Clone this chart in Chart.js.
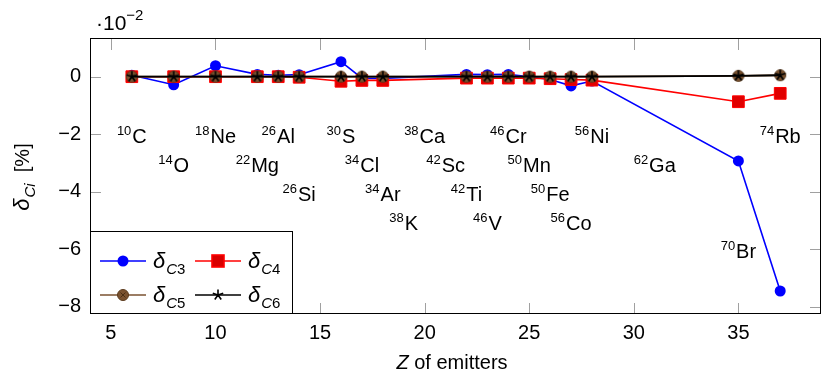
<!DOCTYPE html>
<html>
<head>
<meta charset="utf-8">
<script src="https://cdn.jsdelivr.net/npm/chart.js@4.4.1/dist/chart.umd.min.js"></script>
<style>
  html, body { margin: 0; padding: 0; background: #fff; }
  #wrap { width: 821px; height: 374px; }
</style>
</head>
<body>
<div id="wrap"><canvas id="chart" width="821" height="374"></canvas></div>
<script>
// values in units of 10^-2 %
var zValues = [6, 8, 10, 12, 13, 14, 16, 17, 18, 22, 23, 24, 25, 26, 27, 28, 35, 37];
var deltaC3 = [0.05, -0.28, 0.38, 0.08, 0.05, 0.07, 0.52, -0.05, -0.06, 0.08, 0.07, 0.08, 0.0, -0.1, -0.32, -0.15, -2.93, -7.45];
var deltaC4 = [0.0, 0.0, 0.0, 0.0, 0.0, -0.02, -0.16, -0.13, -0.13, -0.05, -0.05, -0.05, -0.05, -0.07, -0.1, -0.12, -0.87, -0.58];
var deltaC5 = [0.0, 0.0, 0.0, 0.0, 0.0, 0.0, 0.0, 0.0, 0.0, 0.0, 0.0, 0.0, 0.0, 0.0, 0.0, 0.0, 0.03, 0.05];
var deltaC6 = [0.0, 0.0, 0.0, 0.0, 0.0, 0.0, 0.0, 0.0, 0.0, 0.0, 0.0, 0.0, 0.0, 0.0, 0.0, 0.0, 0.03, 0.05];

var xTickValues = [5, 10, 15, 20, 25, 30, 35];
var yTickValues = [0, -2, -4, -6, -8];

var emitterMass = ['10', '14', '18', '22', '26', '26', '30', '34', '34', '38', '38', '42', '42', '46', '46', '50', '50', '56', '56', '62', '70', '74'];
var emitterSymbol = ['C', 'O', 'Ne', 'Mg', 'Al', 'Si', 'S', 'Cl', 'Ar', 'K', 'Ca', 'Sc', 'Ti', 'V', 'Cr', 'Mn', 'Fe', 'Co', 'Ni', 'Ga', 'Br', 'Rb'];
var emitterZ = [6, 8, 10, 12, 13, 14, 16, 17, 18, 19, 20, 21, 22, 23, 24, 25, 26, 27, 28, 31, 35, 37];
var emitterLabelY = [-2, -3, -2, -3, -2, -4, -2, -3, -4, -5, -2, -3, -4, -5, -2, -3, -4, -5, -2, -3, -6, -2];

var FONT = '"Liberation Sans", Arial, Helvetica, sans-serif';
var BROWN = '#7a5230';

function toPoints(ys) {
  return zValues.map(function (z, i) { return { x: z, y: ys[i] }; });
}

// pgfplots-like marks
function makeStarMark() {
  var c = document.createElement('canvas');
  c.width = 14; c.height = 14;
  var g = c.getContext('2d');
  g.strokeStyle = '#000';
  g.lineWidth = 1.6;
  g.beginPath();
  for (var k = 0; k < 5; k++) {
    var a = -Math.PI / 2 + k * 2 * Math.PI / 5;
    g.moveTo(7, 7);
    g.lineTo(7 + 5.5 * Math.cos(a), 7 + 5.5 * Math.sin(a));
  }
  g.stroke();
  return c;
}
function makeBrownMark() {
  var c = document.createElement('canvas');
  c.width = 14; c.height = 14;
  var g = c.getContext('2d');
  g.fillStyle = BROWN;
  g.strokeStyle = '#5a3a1c';
  g.lineWidth = 1;
  g.beginPath();
  g.arc(7, 7, 5.5, 0, Math.PI * 2);
  g.fill();
  g.stroke();
  g.strokeStyle = '#4a2f15';
  g.beginPath();
  g.moveTo(4.5, 4.5); g.lineTo(9.5, 9.5);
  g.moveTo(9.5, 4.5); g.lineTo(4.5, 9.5);
  g.stroke();
  return c;
}
var starMark = makeStarMark();
var brownMark = makeBrownMark();

function minus(v) {
  return v < 0 ? '\u2212' + Math.abs(v) : String(v);
}

// draws "^{sup}Main" centred at x
function drawNuclide(g, sup, main, x, y) {
  g.font = '13px ' + FONT;
  var ws = g.measureText(sup).width;
  g.font = '20px ' + FONT;
  var wm = g.measureText(main).width;
  var x0 = x - (ws + 1 + wm) / 2;
  var base = y + 9;
  g.textAlign = 'left';
  g.textBaseline = 'alphabetic';
  g.fillStyle = '#000';
  g.font = '13px ' + FONT;
  g.fillText(sup, x0, base - 8);
  g.font = '20px ' + FONT;
  g.fillText(main, x0 + ws + 1, base);
}

// draws "δ_{C n}" starting at x with baseline y
function drawDelta(g, sub, x, y) {
  g.textAlign = 'left';
  g.textBaseline = 'alphabetic';
  g.fillStyle = '#000';
  g.font = 'italic 22px ' + FONT;
  g.fillText('\u03b4', x, y);
  var w = g.measureText('\u03b4').width;
  g.font = 'italic 15px ' + FONT;
  g.fillText('C', x + w + 1, y + 6);
  var wc = g.measureText('C').width;
  g.font = '15px ' + FONT;
  g.fillText(sub, x + w + 1 + wc, y + 6);
}

var framePlugin = {
  id: 'frame',
  beforeDatasetsDraw: function (chart) {
    var g = chart.ctx, a = chart.chartArea;
    var xs = chart.scales.x, ys = chart.scales.y;
    g.save();
    g.strokeStyle = '#a0a0a0';
    g.lineWidth = 1;
    g.beginPath();
    xTickValues.forEach(function (v) {
      var px = Math.round(xs.getPixelForValue(v)) + 0.5;
      g.moveTo(px, a.bottom); g.lineTo(px, a.bottom - 11);
      g.moveTo(px, a.top); g.lineTo(px, a.top + 11);
    });
    yTickValues.forEach(function (v) {
      var py = Math.round(ys.getPixelForValue(v)) + 0.5;
      g.moveTo(a.left, py); g.lineTo(a.left + 11, py);
      g.moveTo(a.right, py); g.lineTo(a.right - 11, py);
    });
    g.stroke();
    g.restore();
  },
  afterDatasetsDraw: function (chart) {
    var g = chart.ctx, a = chart.chartArea;
    var xs = chart.scales.x, ys = chart.scales.y;
    g.save();
    // nuclide labels
    emitterSymbol.forEach(function (s, i) {
      drawNuclide(g, emitterMass[i], s, xs.getPixelForValue(emitterZ[i]), ys.getPixelForValue(emitterLabelY[i]));
    });

    // axis box
    g.strokeStyle = '#000';
    g.lineWidth = 1;
    g.strokeRect(Math.round(a.left) + 0.5, Math.round(a.top) - 0.5, Math.round(a.right - a.left) - 1, Math.round(a.bottom - a.top));

    // legend
    var lx = Math.round(a.left) + 0.5, ly = 231.5, lw = 202, lh = 82;
    g.fillStyle = '#fff';
    g.fillRect(lx, ly, lw, lh);
    g.strokeRect(lx, ly, lw, lh);
    var entries = [
      { col: 0, row: 0, color: '#0000ff', sub: '3', mark: 'circle' },
      { col: 1, row: 0, color: '#ff0000', sub: '4', mark: 'rect' },
      { col: 0, row: 1, color: BROWN, sub: '5', mark: 'brown' },
      { col: 1, row: 1, color: '#000', sub: '6', mark: 'star' }
    ];
    entries.forEach(function (e) {
      var x1 = e.col === 0 ? 100 : 195;
      var yc = e.row === 0 ? 261 : 295;
      g.strokeStyle = e.color;
      g.lineWidth = 1.6;
      g.beginPath();
      g.moveTo(x1, yc); g.lineTo(x1 + 46, yc);
      g.stroke();
      var mx = x1 + 23;
      if (e.mark === 'circle') {
        g.fillStyle = e.color;
        g.beginPath(); g.arc(mx, yc, 5.5, 0, Math.PI * 2); g.fill();
      } else if (e.mark === 'rect') {
        g.fillStyle = '#d80000';
        g.fillRect(mx - 6, yc - 6, 12, 12);
        g.strokeRect(mx - 6, yc - 6, 12, 12);
      } else if (e.mark === 'brown') {
        g.drawImage(brownMark, mx - 7, yc - 7);
      } else {
        g.drawImage(starMark, mx - 7, yc - 7);
      }
      drawDelta(g, e.sub, x1 + 53, yc + 7);
    });

    // multiplier
    g.fillStyle = '#000';
    g.textAlign = 'left';
    g.textBaseline = 'alphabetic';
    g.font = '21px ' + FONT;
    g.fillText('\u00b710', 96, 30);
    var wm = g.measureText('\u00b710').width;
    g.font = '15px ' + FONT;
    g.fillText('\u22122', 96 + wm, 20);

    // x title
    g.font = 'italic 20px ' + FONT;
    var wz = g.measureText('Z').width;
    g.font = '20px ' + FONT;
    var wr = g.measureText(' of emitters').width;
    var tx = 452 - (wz + wr) / 2;
    g.font = 'italic 20px ' + FONT;
    g.fillText('Z', tx, 369);
    g.font = '20px ' + FONT;
    g.fillText(' of emitters', tx + wz, 369);

    // y title
    g.translate(29, 177);
    g.rotate(-Math.PI / 2);
    g.font = 'italic 22px ' + FONT;
    var wd = g.measureText('\u03b4').width;
    g.font = 'italic 15px ' + FONT;
    var wci = g.measureText('Ci').width;
    g.font = '20px ' + FONT;
    var wp = g.measureText('  [%]').width;
    var sx = -(wd + 1 + wci + wp) / 2;
    g.font = 'italic 22px ' + FONT;
    g.fillText('\u03b4', sx, 0);
    g.font = 'italic 15px ' + FONT;
    g.fillText('Ci', sx + wd + 1, 6);
    g.font = '20px ' + FONT;
    g.fillText('  [%]', sx + wd + 1 + wci, 0);
    g.restore();
  }
};

var ctx = document.getElementById('chart').getContext('2d');
var chart = new Chart(ctx, {
  type: 'line',
  data: {
    datasets: [
      {
        label: 'δC3', data: toPoints(deltaC3), order: 4,
        borderColor: '#0000ff', backgroundColor: '#0000ff', borderWidth: 1.6,
        pointStyle: 'circle', pointRadius: 5.5, pointBorderWidth: 0, pointBackgroundColor: '#0000ff'
      },
      {
        label: 'δC4', data: toPoints(deltaC4), order: 3,
        borderColor: '#ff0000', backgroundColor: '#e00000', borderWidth: 1.6,
        pointStyle: 'rect', pointRadius: 8.3, pointBorderWidth: 1, pointBorderColor: '#ff0000', pointBackgroundColor: '#e00000'
      },
      {
        label: 'δC5', data: toPoints(deltaC5), order: 2,
        borderColor: BROWN, borderWidth: 1.8,
        pointStyle: brownMark, pointRadius: 6
      },
      {
        label: 'δC6', data: toPoints(deltaC6), order: 1,
        borderColor: '#000', borderWidth: 1.8,
        pointStyle: starMark, pointRadius: 6
      }
    ]
  },
  options: {
    responsive: false,
    animation: false,
    events: [],
    layout: { autoPadding: false, padding: { top: 39, right: 0, bottom: 0, left: 0 } },
    plugins: { legend: { display: false }, tooltip: { enabled: false } },
    scales: {
      x: {
        type: 'linear', min: 4, max: 38.95,
        afterFit: function (s) { s.height = 60; s.paddingLeft = 0; s.paddingRight = 0; },
        afterBuildTicks: function (s) { s.ticks = xTickValues.map(function (v) { return { value: v }; }); },
        grid: { display: false, drawTicks: false },
        border: { display: false },
        ticks: { color: '#000', font: { family: FONT, size: 20 }, padding: 7, maxRotation: 0, autoSkip: false }
      },
      y: {
        type: 'linear', min: -8.25, max: 1.31,
        afterFit: function (s) { s.width = 90; s.paddingTop = 0; s.paddingBottom = 0; },
        afterBuildTicks: function (s) { s.ticks = yTickValues.map(function (v) { return { value: v }; }); },
        grid: { display: false, drawTicks: false },
        border: { display: false },
        ticks: { color: '#000', font: { family: FONT, size: 20 }, padding: 9, callback: minus, autoSkip: false }
      }
    }
  },
  plugins: [framePlugin]
});
</script>
</body>
</html>
